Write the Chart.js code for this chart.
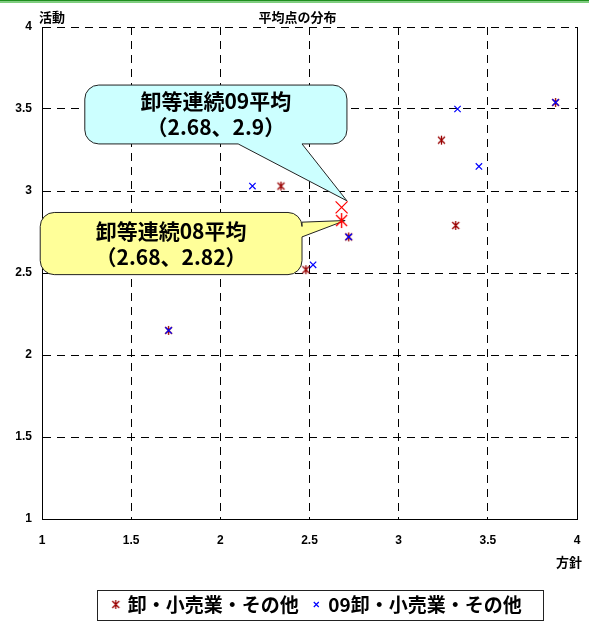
<!DOCTYPE html>
<html>
<head>
<meta charset="utf-8">
<script src="https://cdn.jsdelivr.net/npm/chart.js@4/dist/chart.umd.min.js"></script>
<style>
  html, body { margin: 0; padding: 0; background: #fff; }
  #wrap { width: 589px; height: 624px; position: relative; }
</style>
</head>
<body>
<div id="wrap"><canvas id="chart" width="589" height="624"></canvas></div>
<script>
// ---- data ----
const seriesNames = ['卸・小売業・その他', '09卸・小売業・その他'];
const wholesale08X = [2.34, 2.48, 3.24, 3.32, 2.72, 1.71, 3.88];
const wholesale08Y = [3.03, 2.52, 3.31, 2.79, 2.72, 2.15, 3.54];
const wholesale09X = [2.18, 2.52, 2.72, 3.33, 3.45, 3.88, 1.71];
const wholesale09Y = [3.03, 2.55, 2.72, 3.50, 3.15, 3.54, 2.15];
const averageNames = ['卸等連続08平均', '卸等連続09平均'];
const averageX = [2.68, 2.68];
const averageY = [2.82, 2.9];
const xTicks = [1, 1.5, 2, 2.5, 3, 3.5, 4];
const yTicks = [1, 1.5, 2, 2.5, 3, 3.5, 4];
const chartTitle = '平均点の分布';
const xTitle = '方針';
const yTitle = '活動';

const toPoints = (xs, ys) => xs.map((x, i) => ({ x, y: ys[i] }));

const jpFont = '"Noto Sans CJK JP", "Noto Sans", sans-serif';
const tickFont = { family: '"Liberation Sans", Arial, sans-serif', size: 12, weight: 'bold' };

// six-armed asterisk marker (diagonal cross plus a vertical bar)
function asteriskMarker(half, tall, color, lw) {
  const size = Math.ceil(tall * 2 + lw * 2) | 1;
  const cv = document.createElement('canvas');
  cv.width = size;
  cv.height = size;
  const g = cv.getContext('2d');
  const c = size / 2;
  g.strokeStyle = color;
  g.lineWidth = lw;
  g.beginPath();
  g.moveTo(c - half, c - half); g.lineTo(c + half, c + half);
  g.moveTo(c + half, c - half); g.lineTo(c - half, c + half);
  g.moveTo(c, c - tall); g.lineTo(c, c + tall);
  g.stroke();
  return cv;
}

// callout balloons (box corners and tail in axis units)
const calloutStyles = [
  { fill: '#ffff99', box: [0.99, 2.869, 2.458, 2.49], side: 'right', base: [2.81, 2.72], tip: [2.70, 2.82] },
  { fill: '#ccffff', box: [1.24, 3.646, 2.71, 3.287], side: 'bottom', base: [2.10, 2.458], tip: [2.71, 2.94] }
];

const pageDecor = {
  id: 'pageDecor',
  beforeDraw(chart) {
    const ctx = chart.ctx;
    ctx.save();
    ctx.fillStyle = '#1e8f1e';
    ctx.fillRect(0, 0, chart.width, 1.5);
    ctx.fillStyle = '#7ccf7c';
    ctx.fillRect(0, 1.5, chart.width, 1.5);
    ctx.restore();
  },
  afterLayout(chart) {
    const lg = chart.legend;
    lg.left += 29;
    lg.right += 29;
    const tb = chart.titleBlock;
    tb.left += 9;
    tb.right += 9;
  },
  beforeDatasetsDraw(chart) {
    const { ctx, chartArea: a, scales: { x, y } } = chart;
    ctx.save();
    // right frame edge
    ctx.strokeStyle = '#000';
    ctx.lineWidth = 1;
    ctx.beginPath();
    ctx.moveTo(Math.round(a.right) + 0.5, a.top);
    ctx.lineTo(Math.round(a.right) + 0.5, a.bottom);
    ctx.stroke();

    calloutStyles.forEach((c, i) => {
      const L = x.getPixelForValue(c.box[0]);
      const T = y.getPixelForValue(c.box[1]);
      const R = x.getPixelForValue(c.box[2]);
      const B = y.getPixelForValue(c.box[3]);
      const tx = x.getPixelForValue(c.tip[0]);
      const ty = y.getPixelForValue(c.tip[1]);
      const r = 14;
      ctx.beginPath();
      ctx.moveTo(L + r, T);
      if (c.side === 'right') {
        const a1 = y.getPixelForValue(c.base[0]);
        const a2 = y.getPixelForValue(c.base[1]);
        ctx.arcTo(R, T, R, B, r);
        ctx.lineTo(R, a1);
        ctx.lineTo(tx, ty);
        ctx.lineTo(R, a2);
        ctx.arcTo(R, B, L, B, r);
        ctx.arcTo(L, B, L, T, r);
        ctx.arcTo(L, T, R, T, r);
      } else {
        const b1 = x.getPixelForValue(c.base[0]);
        const b2 = x.getPixelForValue(c.base[1]);
        ctx.arcTo(R, T, R, B, r);
        ctx.arcTo(R, B, L, B, r);
        ctx.lineTo(b2, B);
        ctx.lineTo(tx, ty);
        ctx.lineTo(b1, B);
        ctx.arcTo(L, B, L, T, r);
        ctx.arcTo(L, T, R, T, r);
      }
      ctx.closePath();
      ctx.fillStyle = c.fill;
      ctx.fill();
      ctx.strokeStyle = '#222';
      ctx.lineWidth = 1;
      ctx.stroke();

      const cx = (L + R) / 2;
      const cy = (T + B) / 2;
      ctx.fillStyle = '#000';
      ctx.font = 'bold 21px ' + jpFont;
      ctx.textAlign = 'center';
      ctx.textBaseline = 'middle';
      ctx.fillText(averageNames[i], cx, cy - 13);
      ctx.fillText('（' + averageX[i] + '、' + averageY[i] + '）', cx, cy + 13);
    });
    ctx.restore();
  },
  afterDraw(chart) {
    const { ctx, chartArea: a } = chart;
    ctx.save();
    ctx.fillStyle = '#000';
    ctx.font = 'bold 13px ' + jpFont;
    ctx.textAlign = 'center';
    ctx.textBaseline = 'middle';
    ctx.fillText(yTitle, a.left + 10, 17);
    ctx.fillText(xTitle, a.right - 8, 562);

    // frame around the legend
    const lg = chart.legend;
    const hb = lg.legendHitBoxes;
    if (hb && hb.length) {
      const left = hb[0].left - 16;
      const right = hb[hb.length - 1].left + hb[hb.length - 1].width + 22;
      const mid = hb[0].top + hb[0].height / 2;
      ctx.strokeStyle = '#222';
      ctx.lineWidth = 1;
      ctx.strokeRect(Math.round(left) + 0.5, Math.round(mid - 15) + 0.5, Math.round(right - left), 30);
    }
    ctx.restore();
  }
};

const scaleBase = (ticks) => ({
  type: 'linear',
  min: 1,
  max: 4,
  afterBuildTicks: (s) => { s.ticks = ticks.map(v => ({ value: v })); },
  ticks: { font: tickFont, color: '#000', autoSkip: false, maxRotation: 0, callback: v => String(v) },
  grid: { color: '#000', lineWidth: 1, drawTicks: false },
  border: { display: true, color: '#000', width: 1, dash: [8, 6] }
});

const xScale = Object.assign(scaleBase(xTicks), {
  position: 'bottom',
  afterFit: s => { s.height = 61; s.paddingLeft = 0; s.paddingRight = 0; }
});
xScale.ticks.padding = 14;
const yScale = Object.assign(scaleBase(yTicks), { position: 'left', afterFit: s => { s.width = 42; } });
yScale.ticks.padding = 10;

new Chart(document.getElementById('chart'), {
  type: 'scatter',
  data: {
    datasets: [
      {
        label: seriesNames[0],
        data: toPoints(wholesale08X, wholesale08Y),
        pointStyle: asteriskMarker(3.5, 4.5, '#990000', 1.3),
        borderColor: '#990000',
        backgroundColor: '#990000',
        order: 2
      },
      {
        label: seriesNames[1],
        data: toPoints(wholesale09X, wholesale09Y),
        pointStyle: 'crossRot',
        pointRadius: 4.5,
        borderColor: '#0000ff',
        backgroundColor: '#0000ff',
        borderWidth: 1.2,
        order: 1
      },
      {
        label: averageNames[0],
        data: [{ x: averageX[0], y: averageY[0] }],
        pointStyle: asteriskMarker(5.5, 7.5, '#ff0000', 1.4),
        borderColor: '#ff0000',
        backgroundColor: '#ff0000',
        order: 0
      },
      {
        label: averageNames[1],
        data: [{ x: averageX[1], y: averageY[1] }],
        pointStyle: 'crossRot',
        pointRadius: 8.5,
        borderColor: '#ff0000',
        backgroundColor: '#ff0000',
        borderWidth: 1.2,
        order: 0
      }
    ]
  },
  options: {
    responsive: false,
    animation: false,
    layout: { padding: { left: 0, right: 12, top: 0, bottom: 0 } },
    scales: { x: xScale, y: yScale },
    plugins: {
      title: {
        display: true,
        text: chartTitle,
        color: '#000',
        font: { family: jpFont, size: 13, weight: 'bold' },
        padding: { top: 9, bottom: 2.4 }
      },
      legend: {
        position: 'bottom',
        labels: {
          usePointStyle: true,
          boxWidth: 5,
          boxHeight: 5,
          padding: 15,
          color: '#000',
          font: { family: jpFont, size: 19, weight: 'bold' },
          filter: item => item.datasetIndex < 2,
          sort: (a, b) => a.datasetIndex - b.datasetIndex
        }
      },
      tooltip: { enabled: false }
    }
  },
  plugins: [pageDecor]
});
</script>
</body>
</html>
